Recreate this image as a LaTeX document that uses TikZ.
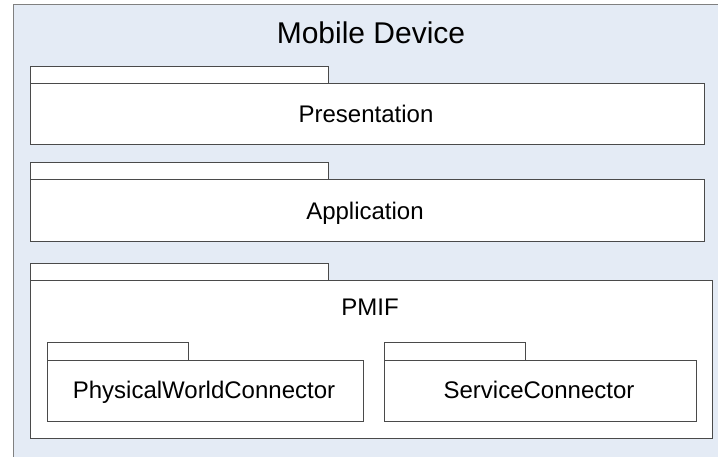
\documentclass[tikz,border=0pt]{standalone}
\usepackage{fontspec}
\setmainfont{Liberation Sans}
\definecolor{devicebg}{HTML}{E4EBF5}
\definecolor{frameline}{HTML}{808080}
\definecolor{boxline}{HTML}{4A4A4A}
\begin{document}
\begin{tikzpicture}[x=1pt,y=-1pt,
  pkg/.style={draw=boxline, fill=white, line width=1pt, rectangle, inner sep=0pt, outer sep=0pt},
  title/.style={anchor=base, inner sep=0pt, font=\fontsize{30}{32}\selectfont},
  label/.style={anchor=base, inner sep=0pt, font=\fontsize{24}{26}\selectfont}]
\useasboundingbox (0,0) rectangle (718,457);
\fill[white] (0,0) rectangle (718,457);
% device frame: only its top and left edges are visible
\fill[devicebg] (13,5) rectangle (718,457);
\draw[frameline, line width=1pt] (13,457) -- (13,5) -- (718,5);
\node[title] (device) at (371,44) {Mobile Device};

% Presentation package
\node[pkg, minimum width=298pt, minimum height=17pt] (presTab) at (179,75.5) {};
\node[pkg, minimum width=674pt, minimum height=61pt] (pres) at (367,114.5) {};
\node[label] (presLbl) at (366,123) {Presentation};

% Application package
\node[pkg, minimum width=298pt, minimum height=17pt] (appTab) at (179,171.5) {};
\node[pkg, minimum width=674pt, minimum height=62pt] (app) at (367,211) {};
\node[label] (appLbl) at (365,220) {Application};

% PMIF package with its two nested packages
\node[pkg, minimum width=298pt, minimum height=17pt] (pmifTab) at (179,272.5) {};
\node[pkg, minimum width=682pt, minimum height=157pt] (pmif) at (371,359.5) {};
\node[label] (pmifLbl) at (370,316) {PMIF};

\node[pkg, minimum width=141pt, minimum height=18pt] (pwcTab) at (117.5,351) {};
\node[pkg, minimum width=316pt, minimum height=61pt] (pwc) at (205,390.5) {};
\node[label] (pwcLbl) at (204,398) {PhysicalWorldConnector};

\node[pkg, minimum width=141pt, minimum height=18pt] (scTab) at (454.5,351) {};
\node[pkg, minimum width=312pt, minimum height=61pt] (sc) at (540,390.5) {};
\node[label] (scLbl) at (539,398) {ServiceConnector};
\end{tikzpicture}
\end{document}
